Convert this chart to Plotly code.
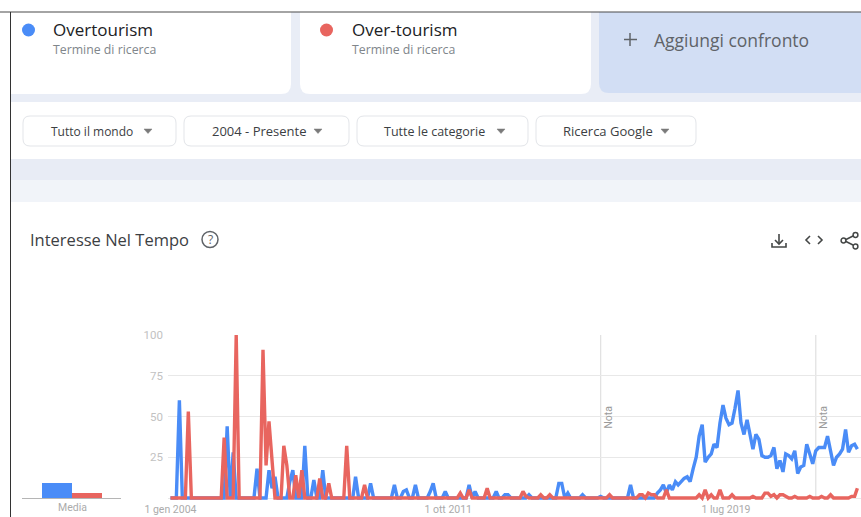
import pandas as pd
import plotly.graph_objects as go

months = pd.date_range("2004-01-01", periods=231, freq="MS")

overtourism = [
    0, 0, 0, 60, 0, 0, 0, 0, 0, 0,
    0, 0, 0, 0, 0, 0, 0, 0, 0, 44,
    0, 28, 0, 0, 0, 0, 0, 0, 0, 18,
    0, 0, 0, 17, 6, 13, 0, 0, 0, 0,
    10, 17, 0, 0, 0, 32, 0, 0, 11, 0,
    0, 17, 0, 0, 0, 0, 0, 0, 0, 0,
    0, 0, 13, 0, 0, 0, 0, 9, 0, 0,
    0, 0, 0, 0, 0, 8, 0, 0, 4, 5,
    0, 0, 8, 0, 0, 0, 0, 4, 9, 0,
    0, 0, 4, 0, 0, 0, 0, 0, 0, 0,
    8, 0, 4, 0, 0, 0, 0, 0, 0, 4,
    0, 0, 2, 2, 0, 0, 0, 0, 0, 0,
    2, 0, 0, 0, 0, 0, 0, 0, 0, 0,
    9, 9, 0, 3, 0, 0, 0, 0, 2, 0,
    0, 0, 0, 0, 1, 0, 0, 0, 0, 0,
    0, 0, 0, 0, 8, 0, 0, 0, 0, 0,
    0, 0, 0, 3, 5, 8, 3, 8, 5, 10,
    8, 10, 12, 13, 10, 18, 25, 38, 45, 22,
    25, 27, 33, 31, 46, 57, 49, 45, 46, 55,
    66, 46, 39, 48, 39, 30, 39, 36, 26, 25,
    25, 26, 31, 18, 23, 16, 27, 26, 24, 29,
    15, 19, 20, 33, 27, 21, 29, 31, 31, 31,
    38, 28, 20, 25, 27, 30, 42, 28, 32, 33,
    30,
]
over_tourism = [
    0, 0, 0, 0, 0, 0, 53, 0, 0, 0,
    0, 0, 0, 0, 0, 0, 0, 0, 37, 0,
    0, 0, 100, 0, 0, 0, 0, 0, 0, 0,
    0, 91, 20, 47, 22, 0, 0, 0, 32, 20,
    0, 0, 14, 0, 17, 0, 0, 0, 0, 0,
    12, 0, 0, 9, 0, 0, 0, 0, 0, 32,
    0, 0, 0, 0, 0, 8, 0, 0, 0, 0,
    0, 0, 0, 0, 0, 0, 0, 0, 0, 0,
    0, 0, 0, 0, 0, 0, 0, 0, 0, 0,
    0, 0, 0, 0, 0, 0, 0, 3, 0, 0,
    5, 0, 0, 0, 0, 0, 6, 0, 0, 0,
    0, 0, 0, 0, 0, 0, 0, 0, 4, 1,
    0, 0, 0, 0, 2, 0, 0, 2, 0, 0,
    0, 0, 0, 0, 0, 0, 0, 0, 0, 0,
    0, 0, 0, 0, 0, 0, 0, 2, 0, 0,
    0, 0, 0, 0, 0, 0, 0, 2, 2, 0,
    3, 2, 2, 0, 0, 0, 5, 0, 0, 0,
    0, 0, 0, 0, 0, 0, 0, 2, 0, 5,
    0, 2, 0, 0, 5, 0, 0, 0, 2, 0,
    0, 0, 0, 0, 0, 1, 0, 0, 0, 3,
    3, 1, 2, 0, 2, 2, 1, 0, 0, 1,
    0, 0, 0, 0, 1, 0, 0, 0, 1, 0,
    0, 2, 0, 0, 0, 0, 0, 0, 1, 1,
    6,
]
terms = ["Overtourism", "Over-tourism"]
averages = [9, 3]
y_ticks = [0, 25, 50, 75, 100]
y_labels = ["", "25", "50", "75", "100"]
x_ticks = ["2004-01-01", "2011-10-01", "2019-07-01"]
x_labels = ["1 gen 2004", "1 ott 2011", "1 lug 2019"]
note_dates = ["2016-01-01", "2022-01-01"]
filters = ["Tutto il mondo", "2004 - Presente", "Tutte le categorie", "Ricerca Google"]

BLUE, RED = "#4A8CF7", "#E8655F"
W, H = 861, 517
FONT = "Open Sans"


def X(p):
    return p / W


def Y(p):
    return 1 - p / H


def rect(x0, y0, x1, y1, fill, line=None, width=1):
    return dict(type="rect", xref="paper", yref="paper", layer="below",
                x0=X(x0), y0=Y(y0), x1=X(x1), y1=Y(y1), fillcolor=fill,
                line=dict(color=line or fill, width=width if line else 0))


def P(*pts):
    """Paper-space path from figure pixel commands."""
    out = []
    for cmd, *c in pts:
        if cmd == "Z":
            out.append("Z")
        elif cmd == "Q":
            out.append(f"Q{X(c[0])},{Y(c[1])} {X(c[2])},{Y(c[3])}")
        else:
            out.append(f"{cmd}{X(c[0])},{Y(c[1])}")
    return " ".join(out)


def rounded(x0, y0, x1, y1, r, fill, line=None, tl=True, tr=True, br=True, bl=True):
    pts = [("M", x0 + (r if tl else 0), y0), ("L", x1 - (r if tr else 0), y0)]
    if tr:
        pts.append(("Q", x1, y0, x1, y0 + r))
    pts.append(("L", x1, y1 - (r if br else 0)))
    if br:
        pts.append(("Q", x1, y1, x1 - r, y1))
    pts.append(("L", x0 + (r if bl else 0), y1))
    if bl:
        pts.append(("Q", x0, y1, x0, y1 - r))
    pts.append(("L", x0, y0 + (r if tl else 0)))
    if tl:
        pts.append(("Q", x0, y0, x0 + r, y0))
    pts.append(("Z",))
    return dict(type="path", xref="paper", yref="paper", layer="below", path=P(*pts),
                fillcolor=fill, line=dict(color=line or fill, width=1 if line else 0))


def stroke(*pts, color="#444746", width=1.6, fill=None):
    return dict(type="path", xref="paper", yref="paper", layer="above", path=P(*pts),
                fillcolor=fill or "rgba(0,0,0,0)", line=dict(color=color, width=width))


def circle(cx, cy, r, fill, line=None, width=1.5):
    return dict(type="circle", xref="paper", yref="paper", layer="above",
                x0=X(cx - r), x1=X(cx + r), y0=Y(cy + r), y1=Y(cy - r), fillcolor=fill,
                line=dict(color=line or fill, width=width if line else 0))


def text(x, y, s, size, color, anchor="left", angle=0, family=FONT):
    return dict(xref="paper", yref="paper", x=X(x), y=Y(y), text=s, showarrow=False,
                xanchor=anchor, yanchor="middle", textangle=angle, captureevents=False,
                xshift=0, yshift=0, borderpad=0, font=dict(size=size, color=color, family=family))


shapes = [
    rect(10, 12, 861, 102, "#E9EDF6"),
    rect(10, 159, 861, 180, "#E8ECF5"),
    rect(10, 180, 861, 202, "#F1F4F9"),
    rounded(11, 12, 291, 94, 10, "#FFFFFF", tl=False, tr=False, bl=False),
    rounded(300, 12, 591, 94, 10, "#FFFFFF", tl=False, tr=False),
    rounded(599, 12, 861, 93, 10, "#D2DEF4", tl=False, tr=False, br=False),
    rounded(11, 202, 861, 517, 8, "#FFFFFF", tr=False, br=False, bl=False),
    rect(0, 11.5, 861, 12.5, "#4A4A4A"),
    rect(10, 12, 11, 517, "#333333"),
]

annotations = [
    text(52, 29, terms[0], 17, "#202124"),
    text(52, 50, "Termine di ricerca", 12.3, "#80868B"),
    text(351, 29, terms[1], 17, "#202124"),
    text(351, 50, "Termine di ricerca", 12.3, "#80868B"),
    text(653, 40, "Aggiungi confronto", 17.5, "#5F6368"),
    text(29, 240, "Interesse Nel Tempo", 16.5, "#3C4043"),
    text(210, 240, "?", 12, "#5F6368", "center"),
    text(72, 507, "Media", 10.5, "#ABABAB", "center", family="Roboto"),
]

# filter buttons
buttons = [(23, 176, 92, 148, 12), (184, 349, 259, 318, 13), (357, 528, 435, 501, 12.5),
           (536, 696, 608, 665, 13)]
for (x0, x1, tx, arrow, size), label in zip(buttons, filters):
    shapes.append(rounded(x0, 116, x1, 146, 7, "#FFFFFF", "#E3E5E9"))
    annotations.append(text(tx, 131.5, label, size, "#3C4043", "center"))
    shapes.append(stroke(("M", arrow - 4, 129), ("L", arrow + 4, 129), ("L", arrow, 133.5), ("Z",),
                         color="#7A7A7A", width=0.5, fill="#7A7A7A"))

# the "+" of the comparison card
shapes.append(stroke(("M", 630, 33), ("L", 630, 46), color="#5F6368", width=1.5))
shapes.append(stroke(("M", 624, 39.5), ("L", 637, 39.5), color="#5F6368", width=1.5))

# legend dots and help circle
shapes.append(circle(28.5, 30, 6.5, BLUE))
shapes.append(circle(326.5, 30, 6.5, RED))
shapes.append(circle(210, 239.5, 8, "rgba(0,0,0,0)", "#5F6368", 1.5))

# download, embed and share icons
shapes += [
    stroke(("M", 779, 234), ("L", 779, 243)),
    stroke(("M", 775, 240), ("L", 779, 244), ("L", 783, 240)),
    stroke(("M", 772, 243), ("L", 772, 247), ("L", 786, 247), ("L", 786, 243)),
    stroke(("M", 810, 236), ("L", 806, 240), ("L", 810, 244)),
    stroke(("M", 818, 236), ("L", 822, 240), ("L", 818, 244)),
    stroke(("M", 855, 235), ("L", 844, 240.5), ("L", 855, 246)),
    circle(855.5, 235, 2.4, "#FFFFFF", "#444746", 1.5),
    circle(843.5, 240.5, 2.4, "#FFFFFF", "#444746", 1.5),
    circle(855.5, 246.5, 2.4, "#FFFFFF", "#444746", 1.5),
]

# average-panel baseline
shapes.append(rect(22, 498, 121, 499, "#B5B5B5"))

# annotation lines
for d in note_dates:
    shapes.append(dict(type="line", xref="x", yref="paper", layer="below", x0=d, x1=d,
                       y0=Y(498), y1=Y(335), line=dict(color="#E2E2E2", width=1.3)))
    annotations.append(dict(xref="x", yref="paper", x=d, y=Y(417), xshift=7, text="Nota",
                            showarrow=False, textangle=-90, xanchor="center", yanchor="middle",
                            font=dict(size=10.5, color="#9A9A9A", family="Roboto")))

y_domain = [Y(501.26), Y(334.2)]
y_range = [-2, 100.5]

fig = go.Figure()
fig.add_trace(go.Scatter(x=months, y=overtourism, mode="lines", name=terms[0],
                         line=dict(color=BLUE, width=3.4), xaxis="x", yaxis="y"))
fig.add_trace(go.Scatter(x=months, y=over_tourism, mode="lines", name=terms[1],
                         line=dict(color=RED, width=3.4), xaxis="x", yaxis="y"))
fig.add_trace(go.Bar(x=terms, y=averages, marker=dict(color=[BLUE, RED], line=dict(width=0)),
                     xaxis="x2", yaxis="y2"))

fig.update_layout(
    template="none",
    width=W, height=H, autosize=False, margin=dict(l=0, r=0, t=0, b=0, pad=0, autoexpand=False),
    paper_bgcolor="#FFFFFF", plot_bgcolor="rgba(0,0,0,0)", showlegend=False, bargap=0,
    shapes=shapes, annotations=annotations,
    xaxis=dict(domain=[X(168), 1], type="date", range=["2003-12-07", "2023-04-07"], automargin=False,
               tickmode="array", tickvals=x_ticks, ticktext=x_labels, showgrid=False,
               zeroline=False, showline=False, ticks="", anchor="y",
               tickfont=dict(size=10.5, color="#ABABAB", family="Roboto")),
    yaxis=dict(domain=y_domain, range=y_range, tickmode="array", tickvals=y_ticks, automargin=False,
               ticktext=y_labels, showgrid=True, gridcolor="#E8E8E8", gridwidth=1,
               zeroline=False, showline=False, ticks="", anchor="x", ticklabelstandoff=4,
               tickfont=dict(size=11.5, color="#C2C2C2", family="Roboto")),
    xaxis2=dict(domain=[X(42), X(102)], type="category", range=[-0.5, 1.5], showgrid=False, automargin=False,
                zeroline=False, showline=False, showticklabels=False, ticks="", anchor="y2"),
    yaxis2=dict(domain=y_domain, range=y_range, showgrid=False, zeroline=False, showline=False, automargin=False,
                showticklabels=False, ticks="", anchor="x2"),
)

fig.write_html("out.html", config=dict(displayModeBar=False),
               post_script="document.body.style.margin='0';document.body.style.overflow='hidden';")
